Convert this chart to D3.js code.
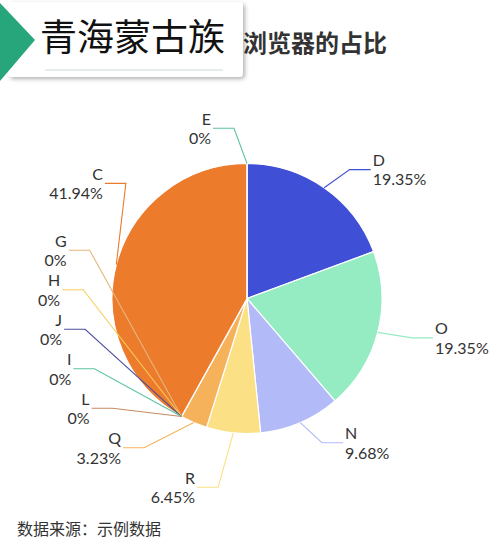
<!DOCTYPE html>
<html>
<head>
<meta charset="utf-8">
<script src="https://cdn.jsdelivr.net/npm/d3@7/dist/d3.min.js"></script>
<style>
  body { margin: 0; background: #fff; }
  svg text { font-family: "Lato", "Open Sans", sans-serif; }
  .cjk { font-family: "Noto Sans CJK SC", sans-serif; }
</style>
</head>
<body>
<script>
// data, in drawing order (clockwise from 12 o'clock)
var names  = ["D", "O", "N", "R", "Q", "G", "H", "J", "I", "L", "C", "E"];
var counts = [6, 6, 3, 2, 1, 0, 0, 0, 0, 0, 13, 0];
var colors = ["#3f4fd6", "#95ecc3", "#b2baf7", "#fbe085", "#f6b25b", "#e6b77c",
              "#f4cf5c", "#4b4f9e", "#5cc4a4", "#c98a62", "#ec7b2c", "#5ec4a0"];

var width = 500, height = 546;
var cx = 247, cy = 298.5, r = 135;

var svg = d3.select("body").append("svg")
    .attr("width", width)
    .attr("height", height);

// title (partly hidden by the card)
svg.append("text")
    .attr("class", "cjk")
    .attr("x", 243).attr("y", 52)
    .style("font-size", "24px").style("font-weight", "bold")
    .style("fill", "#333")
    .text("浏览器的占比");

// pie
var total = d3.sum(counts);
var pie = d3.pie().sort(null).value(function (d) { return d.v; });
var arcs = pie(names.map(function (n, i) { return {name: n, v: counts[i], color: colors[i]}; }));
var arc = d3.arc().innerRadius(0).outerRadius(r);

var g = svg.append("g").attr("transform", "translate(" + cx + "," + cy + ")");
g.selectAll("path.slice")
    .data(arcs)
    .enter().append("path")
    .attr("class", "slice")
    .attr("d", arc)
    .style("fill", function (d) { return d.data.color; })
    .style("stroke", "#fff")
    .style("stroke-width", 1.2);

// label layout, roughly what echarts does for outside pie labels
var lineR = 157, xPad = 13, rA = 164, line2 = 21, boxH = 39.5;
var items = arcs.map(function (d) {
  var a = (d.startAngle + d.endAngle) / 2;
  var s = Math.sin(a), c = Math.cos(a);
  var dir = s < 0 ? -1 : 1;
  return {
    d: d, dir: dir,
    p0: [cx + r * s, cy - r * c],
    x: cx + lineR * s + xPad * dir,
    y: cy - lineR * c
  };
});

function shiftSide(list, minB, maxB) {
  if (list.length < 2) return false;
  list.sort(function (a, b) { return a.y - b.y; });
  var moved = false, last = -Infinity;
  list.forEach(function (it) {
    var top = it.y - boxH / 2;
    if (top < last) { it.y += last - top; moved = true; }
    last = it.y + boxH / 2;
  });
  function shiftAll(dy, from) {
    for (var i = from; i < list.length; i++) list[i].y += dy;
    if (dy) moved = true;
  }
  function gaps() {
    var out = [];
    for (var i = 1; i < list.length; i++)
      out.push(Math.max(list[i].y - list[i - 1].y - boxH, 0));
    return out;
  }
  var first = list[0], lastIt = list[list.length - 1];
  var maxGap = maxB - (lastIt.y + boxH / 2);
  if (maxGap < 0) {
    var gs = gaps(), tot = d3.sum(gs);
    if (tot) {
      var pct = Math.min(-maxGap / tot, 0.8);
      for (var i = list.length - 1; i > 0; i--) shiftAll(-gs[i - 1] * pct, i);
    }
  }
  maxGap = maxB - (lastIt.y + boxH / 2);
  var minGap = first.y - boxH / 2 - minB;
  if (maxGap < 0) shiftAll(-Math.min(minGap, -maxGap), 0);
  return moved;
}

function fixX(list) {
  [list.filter(function (it) { return it.y <= cy; }),
   list.filter(function (it) { return it.y > cy; })].forEach(function (semi) {
    var rB = 0, maxDy = -1;
    semi.forEach(function (it) {
      var dy = Math.abs(it.y - cy), dx = it.x - cx;
      if (dy >= maxDy) {
        maxDy = dy;
        rB = Math.abs(dx) < rA ? Math.sqrt(dy * dy / (1 - dx * dx / rA / rA)) : rA;
      }
    });
    semi.forEach(function (it) {
      var dy = Math.abs(it.y - cy);
      it.x = cx + it.dir * rA * Math.sqrt(Math.max(0, 1 - dy * dy / (rB * rB)));
    });
  });
}

[-1, 1].forEach(function (dir) {
  var side = items.filter(function (it) { return it.dir === dir; });
  if (shiftSide(side, 0, 507)) fixX(side);
});

var fmt = function (v) { return v === 0 ? "0%" : (v / total * 100).toFixed(2) + "%"; };

var lab = svg.append("g").selectAll("g.label")
    .data(items)
    .enter().append("g").attr("class", "label");

lab.append("polyline")
    .attr("points", function (it) {
      return [it.p0, [it.x, it.y], [it.x + line2 * it.dir, it.y]].join(" ");
    })
    .style("fill", "none")
    .style("stroke", function (it) { return it.d.data.color; })
    .style("stroke-width", 1.1);

// name and share in one text block, two lines
var txt = lab.append("text")
    .attr("text-anchor", function (it) { return it.dir < 0 ? "end" : "start"; })
    .style("font-size", "16px").style("fill", "#333");
txt.append("tspan")
    .attr("x", function (it) { return it.x + (line2 + 2) * it.dir; })
    .attr("y", function (it) { return it.y - 3.5; })
    .text(function (it) { return it.d.data.name; });
txt.append("tspan")
    .attr("x", function (it) { return it.x + (line2 + 2) * it.dir; })
    .attr("y", function (it) { return it.y + 15.8; })
    .text(function (it) { return fmt(it.d.data.v); });

// source note
svg.append("text")
    .attr("class", "cjk")
    .attr("x", 17).attr("y", 535)
    .style("font-size", "16px").style("fill", "#333")
    .text("数据来源：示例数据");

// name card over the title
var defs = svg.append("defs");
var f = defs.append("filter").attr("id", "shadow")
    .attr("x", "-10%").attr("y", "-20%").attr("width", "130%").attr("height", "150%");
f.append("feDropShadow").attr("dx", 2).attr("dy", 2).attr("stdDeviation", 2)
    .attr("flood-color", "#000").attr("flood-opacity", 0.3);

var card = svg.append("g");
card.append("rect")
    .attr("x", 8).attr("y", 2).attr("width", 235).attr("height", 75).attr("rx", 4)
    .style("fill", "#fff").attr("filter", "url(#shadow)");
card.append("line")
    .attr("x1", 45).attr("x2", 223).attr("y1", 70).attr("y2", 70)
    .style("stroke", "#dde8e2").style("stroke-width", 1.5);
card.append("path")
    .attr("d", "M0,3L35,40L0,81Z")
    .style("fill", "#27a67b");
card.append("text")
    .attr("class", "cjk")
    .attr("x", 40).attr("y", 51)
    .style("font-size", "37px").style("fill", "#111")
    .text("青海蒙古族");
</script>
</body>
</html>
